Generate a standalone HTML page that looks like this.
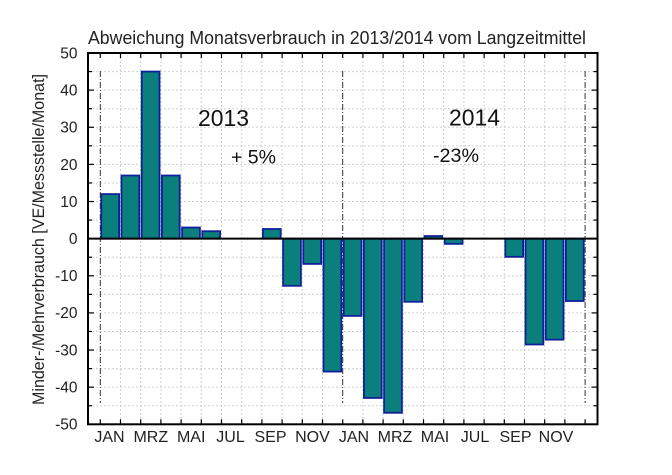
<!DOCTYPE html>
<html><head><meta charset="utf-8"><style>
html,body{margin:0;padding:0;background:#fff;}
svg{display:block;font-family:"Liberation Sans",Arial,sans-serif;}
</style></head><body>
<svg width="672" height="475" viewBox="0 0 672 475" xmlns="http://www.w3.org/2000/svg">
<rect width="672" height="475" fill="#fff"/>
<text x="88" y="44" font-size="18.5" textLength="498" lengthAdjust="spacingAndGlyphs" fill="#222">Abweichung Monatsverbrauch in 2013/2014 vom Langzeitmittel</text>
<g id="grid" stroke="#ccd0d0" stroke-width="1" stroke-dasharray="2,2"></g>
<g id="content"></g>
<text transform="translate(44,239.5) rotate(-90)" text-anchor="middle" font-size="16.5" textLength="331" lengthAdjust="spacingAndGlyphs" fill="#222">Minder-/Mehrverbrauch [VE/Messstelle/Monat]</text>
<text x="198" y="126" font-size="23" textLength="51" lengthAdjust="spacingAndGlyphs" fill="#111">2013</text>
<text x="231" y="163.5" font-size="19" textLength="45" lengthAdjust="spacingAndGlyphs" fill="#111">+ 5%</text>
<text x="449" y="125.5" font-size="23" textLength="51" lengthAdjust="spacingAndGlyphs" fill="#111">2014</text>
<text x="433" y="162" font-size="19" textLength="46" lengthAdjust="spacingAndGlyphs" fill="#111">-23%</text>
<g font-size="15.5" fill="#222" text-anchor="end">
<text x="77.5" y="58.5">50</text>
<text x="77.5" y="95.6">40</text>
<text x="77.5" y="132.7">30</text>
<text x="77.5" y="169.8">20</text>
<text x="77.5" y="206.9">10</text>
<text x="77.5" y="244">0</text>
<text x="77.5" y="281.1">-10</text>
<text x="77.5" y="318.2">-20</text>
<text x="77.5" y="355.3">-30</text>
<text x="77.5" y="392.4">-40</text>
<text x="77.5" y="429.5">-50</text>
</g>
<g font-size="16" fill="#222" text-anchor="middle">
<text x="109.5" y="442">JAN</text>
<text x="150.8" y="442">MRZ</text>
<text x="191.2" y="442">MAI</text>
<text x="230.5" y="442">JUL</text>
<text x="270.5" y="442">SEP</text>
<text x="312.4" y="442">NOV</text>
<text x="354" y="442">JAN</text>
<text x="395" y="442">MRZ</text>
<text x="435" y="442">MAI</text>
<text x="475" y="442">JUL</text>
<text x="515.5" y="442">SEP</text>
<text x="556" y="442">NOV</text>
</g>
</svg>
<script>
(function(){
var ns="http://www.w3.org/2000/svg";
var g=document.getElementById("content");
var grid=document.getElementById("grid");
function el(t,a,p){var e=document.createElementNS(ns,t);for(var k in a)e.setAttribute(k,a[k]);(p||g).appendChild(e);return e;}
var L=88,R=597.5,T=53,B=424.3;
function Y(v){return 238.65-v*3.713;}
function X(i){return 100.3+20.2*i;}
for(var v=-45;v<=45;v+=5){if(v===0)continue;el("line",{x1:L,x2:R,y1:Y(v),y2:Y(v)},grid);}
for(var i=1;i<25;i++){if(i===12||i===24)continue;el("line",{x1:X(i),x2:X(i),y1:T,y2:B},grid);}
[0,12,24].forEach(function(i){el("line",{x1:X(i),x2:X(i),y1:71,y2:403,stroke:"#333","stroke-width":1,"stroke-dasharray":"6,2,1,2"});});
var vals=[12,17,45,17,3,2,0,0,2.6,-12.7,-6.8,-35.8,-20.8,-42.9,-46.9,-17,0.7,-1.4,0,0,-4.9,-28.5,-27.2,-16.8];
for(var i=0;i<24;i++){var v=vals[i];if(v===0)continue;
var y1=Y(Math.max(v,0)),y2=Y(Math.min(v,0));
el("rect",{x:X(i)+1,y:y1,width:17.8,height:Math.max(y2-y1,0.8),fill:"#0b7f7b",stroke:"#10209a","stroke-width":1.8});}
el("line",{x1:L,x2:R,y1:Y(0),y2:Y(0),stroke:"#000","stroke-width":2});
for(var v=-45;v<=45;v+=5){var len=(v%10===0)?6:4;
el("line",{x1:L,x2:L+len,y1:Y(v),y2:Y(v),stroke:"#000","stroke-width":1.2});
el("line",{x1:R,x2:R-len,y1:Y(v),y2:Y(v),stroke:"#000","stroke-width":1.2});}
for(var i=0;i<=24;i++){
el("line",{x1:X(i),x2:X(i),y1:T,y2:T+5,stroke:"#000","stroke-width":1.2});
el("line",{x1:X(i),x2:X(i),y1:B,y2:B-5,stroke:"#000","stroke-width":1.2});}
el("rect",{x:L,y:T,width:R-L,height:B-T,fill:"none",stroke:"#000","stroke-width":2});
})();
</script>
</body></html>
